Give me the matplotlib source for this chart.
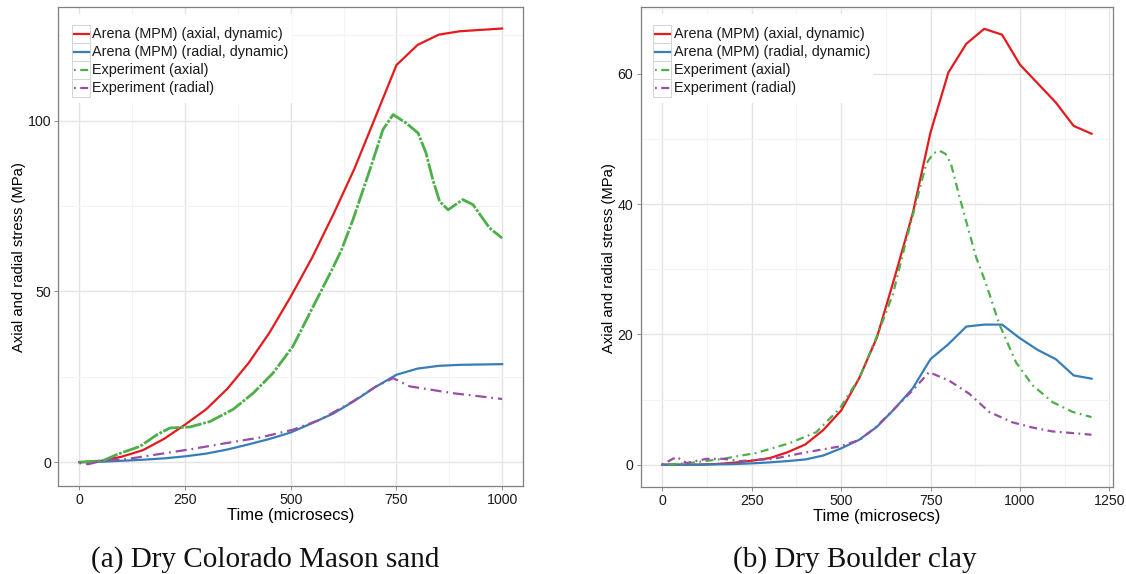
import matplotlib
matplotlib.use("Agg")
import matplotlib.pyplot as plt
from matplotlib.patches import Rectangle
from matplotlib.lines import Line2D
from matplotlib.ticker import FixedLocator

# ---------------- data ----------------
# (a) Dry Colorado Mason sand
sand_sim_time = [0, 50, 100, 150, 200, 250, 300, 350, 400, 450, 500,
                 550, 600, 650, 700, 750, 800, 850, 900, 950, 1000]
sand_sim_axial = [0, 0.3, 1.6, 3.5, 6.8, 11.0, 15.5, 21.5, 29.0, 38.0, 48.5,
                  59.8, 72.4, 85.8, 101.0, 116.3, 122.2, 125.2, 126.2, 126.6, 127.0]
sand_sim_radial = [0, 0.1, 0.4, 0.7, 1.1, 1.7, 2.5, 3.7, 5.2, 6.8, 8.7,
                   11.4, 14.2, 17.9, 22.0, 25.6, 27.4, 28.2, 28.5, 28.6, 28.7]

sand_exp_axial_time = [0, 20, 57, 92, 143, 183, 214, 261, 309, 364, 411, 458,
                       505, 553, 600, 620, 647, 687, 718, 742, 773, 801, 820,
                       836, 852, 872, 907, 931, 970, 1000]
sand_exp_axial = [0, 0.1, 0.5, 2.4, 4.6, 8.0, 10.0, 10.3, 11.9, 15.5, 20.2, 26.1,
                  33.9, 45.6, 57.0, 62.2, 71.0, 85.6, 97.4, 101.8, 99.3, 96.4, 90.5,
                  82.7, 76.4, 73.9, 76.9, 75.4, 68.6, 65.6]

sand_exp_radial_time = [0, 21, 57, 112, 191, 269, 348, 427, 505, 569, 647,
                        702, 742, 781, 883, 1000]
sand_exp_radial = [-0.3, -0.6, 0.5, 0.9, 2.4, 3.9, 5.6, 7.2, 9.5, 12.4, 17.8,
                   22.2, 24.6, 22.2, 20.2, 18.5]

# (b) Dry Boulder clay
clay_sim_time = [0, 50, 100, 150, 200, 250, 300, 350, 400, 450, 500, 550, 600,
                 650, 700, 750, 800, 850, 900, 950, 1000, 1050, 1100, 1150, 1200]
clay_sim_axial = [0, 0, 0, 0.1, 0.3, 0.6, 1.0, 1.9, 3.1, 5.3, 8.3, 13.2, 19.5,
                  28.8, 38.5, 51.0, 60.2, 64.6, 66.9, 66.0, 61.4, 58.5, 55.6, 52.0, 50.8]
clay_sim_radial = [0, 0, 0, 0.05, 0.1, 0.2, 0.35, 0.55, 0.8, 1.4, 2.5, 3.8, 5.8,
                   8.6, 11.7, 16.2, 18.5, 21.2, 21.5, 21.5, 19.4, 17.6, 16.2, 13.7, 13.2]

clay_exp_axial_time = [0, 77, 170, 263, 356, 431, 496, 552, 603, 645, 682, 714,
                       738, 758, 775, 792, 807, 831, 854, 877, 905, 942, 989,
                       1035, 1091, 1147, 1200]
clay_exp_axial = [0, 0.25, 0.9, 1.8, 3.3, 5.0, 8.6, 13.4, 20.1, 26.2, 34.4, 41.1,
                  46.2, 47.8, 48.2, 47.7, 46.2, 41.1, 36.5, 31.9, 27.8, 21.6, 15.7,
                  12.2, 9.6, 8.1, 7.3]

clay_exp_radial_time = [0, 40, 68, 124, 170, 217, 310, 403, 496, 552, 598, 649,
                        700, 746, 802, 858, 914, 979, 1035, 1091, 1147, 1200]
clay_exp_radial = [0, 1.2, 0.25, 0.9, 0.9, 0.55, 0.9, 1.9, 2.8, 3.8, 5.8, 8.6,
                   11.4, 14.2, 12.9, 10.9, 8.1, 6.5, 5.7, 5.1, 4.85, 4.6]

series_labels = ["Arena (MPM) (axial, dynamic)", "Arena (MPM) (radial, dynamic)",
                 "Experiment (axial)", "Experiment (radial)"]
captions = ["(a) Dry Colorado Mason sand", "(b) Dry Boulder clay"]

# ---------------- style ----------------
RED, BLUE, GREEN, PURPLE = "#E41A1C", "#377EB8", "#4DAF4A", "#984EA3"
SANS = ["Liberation Sans", "DejaVu Sans"]
LW = 1.6
DOTDASH = (0, (0.8, 2.0, 3.6, 2.0))
DOTDASH_LONG = (0, (0.8, 2.2, 5.0, 2.2))
DOTDASH_TIGHT = (0, (6.0, 0.6, 1.0, 0.6))

plt.rcParams["font.family"] = SANS

W, H = 1126, 574
fig = plt.figure(figsize=(W / 100, H / 100), dpi=100)


def px_box(left, top, right, bottom):
    return [left / W, 1 - bottom / H, (right - left) / W, (bottom - top) / H]


def fx(x):
    return x / W


def fy(y):
    return 1 - y / H


def style_axes(ax, xlim, ylim, xmajor, xminor, ymajor, yminor):
    ax.set_xlim(*xlim)
    ax.set_ylim(*ylim)
    ax.xaxis.set_major_locator(FixedLocator(xmajor))
    ax.xaxis.set_minor_locator(FixedLocator(xminor))
    ax.yaxis.set_major_locator(FixedLocator(ymajor))
    ax.yaxis.set_minor_locator(FixedLocator(yminor))
    ax.grid(which="major", color="#e4e4e4", lw=1.0, zorder=0)
    ax.grid(which="minor", color="#f3f3f3", lw=0.8, zorder=0)
    ax.set_axisbelow(True)
    for s in ax.spines.values():
        s.set_color("#7f7f7f")
        s.set_linewidth(0.9)
    ax.tick_params(which="major", direction="out", length=2.9, width=0.6,
                   color="#7f7f7f", labelsize=10.2, labelcolor="#1a1a1a", pad=2.4)
    ax.tick_params(which="minor", length=0)
    ax.set_xlabel("Time (microsecs)", fontsize=12, labelpad=0.5)
    ax.set_ylabel("Axial and radial stress (MPa)", fontsize=10.6)


def draw_legend(left, right, key_left):
    fig.patches.append(Rectangle((fx(left), fy(103)), fx(right - left), 89 / H,
                                 transform=fig.transFigure, facecolor="white",
                                 edgecolor="none", zorder=5))
    styles = [(RED, "-"), (BLUE, "-"), (GREEN, DOTDASH), (PURPLE, DOTDASH)]
    for i, ((c, ls), lab) in enumerate(zip(styles, series_labels)):
        top = 25 + 18 * i
        fig.patches.append(Rectangle((fx(key_left), fy(top + 18)), 18 / W, 18 / H,
                                     transform=fig.transFigure, facecolor="white",
                                     edgecolor="#d4d4d4", lw=0.7, zorder=6))
        yc = fy(top + 9)
        fig.lines.append(Line2D([fx(key_left + 1.5), fx(key_left + 16.5)], [yc, yc],
                                transform=fig.transFigure, color=c, ls=ls, lw=LW,
                                zorder=7))
        fig.text(fx(key_left + 20.5), yc, lab, fontsize=10.4, va="center",
                 ha="left", color="#1a1a1a", zorder=8)


# ---------------- panel (a) ----------------
axL = fig.add_axes(px_box(58.3, 7, 523.3, 485.7))
style_axes(axL, (-50, 1050), (-6.9, 133.3),
           [0, 250, 500, 750, 1000], [125, 375, 625, 875],
           [0, 50, 100], [25, 75, 125])
axL.plot(sand_sim_time, sand_sim_axial, color=RED, lw=LW, zorder=3)
axL.plot(sand_sim_time, sand_sim_radial, color=BLUE, lw=LW, zorder=3)
axL.plot(sand_exp_axial_time, sand_exp_axial, color=GREEN, lw=LW + 0.4,
         ls=DOTDASH_TIGHT, zorder=4)
axL.plot(sand_exp_radial_time, sand_exp_radial, color=PURPLE, lw=LW,
         ls=DOTDASH_LONG, zorder=4)
axL.yaxis.set_label_coords(-0.069, 0.477)

# ---------------- panel (b) ----------------
axR = fig.add_axes(px_box(640.7, 7, 1113, 486.5))
style_axes(axR, (-60, 1260), (-3.35, 70.25),
           [0, 250, 500, 750, 1000, 1250], [125, 375, 625, 875, 1125],
           [0, 20, 40, 60], [10, 30, 50, 70])
axR.plot(clay_sim_time, clay_sim_axial, color=RED, lw=LW, zorder=3)
axR.plot(clay_sim_time, clay_sim_radial, color=BLUE, lw=LW, zorder=3)
axR.plot(clay_exp_axial_time, clay_exp_axial, color=GREEN, lw=LW,
         ls=DOTDASH, zorder=4)
axR.plot(clay_exp_radial_time, clay_exp_radial, color=PURPLE, lw=LW,
         ls=DOTDASH, zorder=4)
axR.yaxis.set_label_coords(-0.052, 0.477)

draw_legend(62, 292, 72)
draw_legend(643, 873, 653.5)

# ---------------- captions ----------------
for x, cap in zip([265, 855], captions):
    fig.text(fx(x), fy(567), cap, ha="center", va="baseline", fontsize=21,
             family=["Liberation Serif", "DejaVu Serif"], color="#111111")

fig.savefig("out.png", dpi=100)
